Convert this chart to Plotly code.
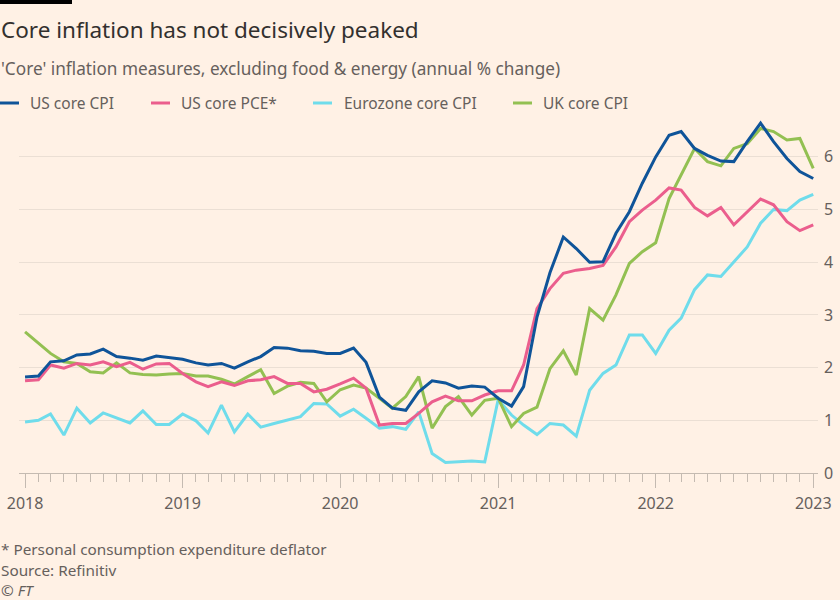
import plotly.graph_objects as go

# ---- data (monthly, annual % change) ----
months = [f"{y}-{m:02d}-01" for y in range(2018, 2023) for m in range(1, 13)] + ["2023-01-01"]

series_names = ["US core CPI", "US core PCE*", "Eurozone core CPI", "UK core CPI"]

us_core_cpi = [
    1.82, 1.84, 2.11, 2.13, 2.24, 2.26, 2.35, 2.21, 2.18, 2.14, 2.22, 2.19,
    2.16, 2.09, 2.05, 2.08, 1.99, 2.11, 2.21, 2.38, 2.37, 2.32, 2.31, 2.27,
    2.27, 2.37, 2.10, 1.44, 1.23, 1.19, 1.54, 1.75, 1.71, 1.61, 1.65, 1.63,
    1.42, 1.27, 1.64, 2.96, 3.80, 4.48, 4.26, 4.00, 4.01, 4.55, 4.96, 5.50,
    6.00, 6.41, 6.48, 6.16, 6.03, 5.92, 5.91, 6.29, 6.64, 6.29, 5.97, 5.72,
    5.59,
]
us_core_pce = [
    1.75, 1.77, 2.05, 1.99, 2.08, 2.05, 2.11, 2.02, 2.10, 1.97, 2.07, 2.08,
    1.89, 1.73, 1.64, 1.73, 1.66, 1.75, 1.77, 1.83, 1.70, 1.70, 1.54, 1.59,
    1.69, 1.80, 1.61, 0.91, 0.94, 0.94, 1.13, 1.35, 1.46, 1.37, 1.37, 1.48,
    1.56, 1.56, 2.05, 3.12, 3.50, 3.79, 3.85, 3.88, 3.94, 4.29, 4.77, 4.99,
    5.18, 5.41, 5.37, 5.04, 4.88, 5.04, 4.71, 4.95, 5.20, 5.09, 4.77, 4.60,
    4.71,
]
eurozone_core_cpi = [
    0.97, 1.00, 1.12, 0.72, 1.23, 0.95, 1.14, 1.04, 0.95, 1.18, 0.92, 0.92,
    1.12, 0.99, 0.76, 1.29, 0.78, 1.12, 0.87, 0.94, 1.00, 1.07, 1.32, 1.31,
    1.08, 1.21, 1.04, 0.85, 0.88, 0.83, 1.16, 0.37, 0.20, 0.21, 0.23, 0.21,
    1.39, 1.10, 0.91, 0.73, 0.94, 0.91, 0.70, 1.57, 1.89, 2.05, 2.62, 2.62,
    2.27, 2.71, 2.94, 3.48, 3.76, 3.73, 4.01, 4.29, 4.74, 5.00, 4.98, 5.18,
    5.29,
]
uk_core_cpi = [
    2.68, 2.46, 2.27, 2.11, 2.08, 1.92, 1.90, 2.09, 1.90, 1.87, 1.86, 1.88,
    1.89, 1.84, 1.84, 1.78, 1.69, 1.83, 1.96, 1.51, 1.65, 1.72, 1.70, 1.35,
    1.58, 1.67, 1.61, 1.42, 1.23, 1.45, 1.83, 0.85, 1.26, 1.45, 1.10, 1.38,
    1.42, 0.88, 1.13, 1.25, 1.98, 2.32, 1.86, 3.12, 2.90, 3.38, 3.98, 4.20,
    4.37, 5.21, 5.65, 6.16, 5.91, 5.83, 6.16, 6.25, 6.54, 6.48, 6.32, 6.35,
    5.78,
]

y_ticks = [0, 1, 2, 3, 4, 5, 6]
x_tick_labels = ["2018", "2019", "2020", "2021", "2022", "2023"]

# ---- style ----
BG = "#FFF1E5"
TEXT = "#33302E"
MUTED = "#66605C"
GRID = "#EBDFD4"
AXIS = "#C4BAB1"
colors = ["#0F5499", "#EB5E8D", "#6FDCEB", "#93C052"]
FONT = "Noto Sans"

W, H = 840, 600
L, R, T, B = 19, 22, 120, 127
plot_w = W - L - R
plot_h = H - T - B


def px(xp):
    return (xp - L) / plot_w


def py(yp):
    return (H - B - yp) / plot_h


fig = go.Figure()
all_series = [us_core_cpi, us_core_pce, eurozone_core_cpi, uk_core_cpi]
# draw order: Eurozone, UK, PCE, CPI on top
for idx in [2, 3, 1, 0]:
    fig.add_trace(go.Scatter(
        x=months, y=all_series[idx], mode="lines", name=series_names[idx],
        line=dict(color=colors[idx], width=3), showlegend=False,
        hoverinfo="skip",
    ))

fig.update_layout(
    width=W, height=H, autosize=False,
    margin=dict(l=L, r=R, t=T, b=B, pad=0, autoexpand=False),
    paper_bgcolor=BG, plot_bgcolor=BG,
    font=dict(family=FONT, color=MUTED, size=15),
    showlegend=False,
    xaxis=dict(
        type="date", automargin=False,
        range=["2017-12-18", "2023-01-12"],
        tickvals=[f"{y}-01-01" for y in x_tick_labels],
        ticktext=x_tick_labels,
        ticks="outside", ticklen=14, tickcolor=AXIS, tickwidth=1,
        minor=dict(dtick="M1", tick0="2018-01-01", ticks="outside", ticklen=8,
                   tickcolor=AXIS, tickwidth=1, showgrid=False),
        showgrid=False, showline=True, linecolor=AXIS, linewidth=1,
        tickfont=dict(size=16, color=MUTED), zeroline=False,
        ticklabelstandoff=2,
    ),
    yaxis=dict(
        range=[0, 6.7], side="right", tickvals=y_ticks, automargin=False,
        ticktext=[str(v) for v in y_ticks],
        showgrid=True, gridcolor=GRID, gridwidth=1, zeroline=False,
        ticks="", tickfont=dict(size=16, color=MUTED), ticklabelstandoff=5,
    ),
)

annotations = [
    dict(text="Core inflation has not decisively peaked", x=px(0), y=py(30),
         font=dict(size=22.5, color=TEXT)),
    dict(text="'Core' inflation measures, excluding food & energy (annual % change)",
         x=px(0), y=py(68), font=dict(size=17.2, color=MUTED)),
    dict(text="* Personal consumption expenditure deflator", x=px(0), y=py(549),
         font=dict(size=15.3, color=MUTED)),
    dict(text="Source: Refinitiv", x=px(0), y=py(570), font=dict(size=15.3, color=MUTED)),
    dict(text="<i>© FT</i>", x=px(0), y=py(590), font=dict(size=15.3, color=MUTED)),
]

legend_line_x = [0, 151, 313, 513]
legend_text_x = [29, 180, 343, 542]
legend_y = 103
shapes = [
    dict(type="rect", xref="paper", yref="paper", x0=px(0), x1=px(72),
         y0=py(4), y1=py(0), fillcolor="#000000", line=dict(width=0)),
]
for i, name in enumerate(series_names):
    shapes.append(dict(type="line", xref="paper", yref="paper",
                       x0=px(legend_line_x[i]), x1=px(legend_line_x[i] + 19),
                       y0=py(legend_y), y1=py(legend_y),
                       line=dict(color=colors[i], width=3)))
    annotations.append(dict(text=name, x=px(legend_text_x[i]), y=py(legend_y),
                            font=dict(size=15.5, color=MUTED)))

for a in annotations:
    a.update(xref="paper", yref="paper", xanchor="left", yanchor="middle",
             showarrow=False, borderpad=0)

fig.update_layout(annotations=annotations, shapes=shapes)

fig.write_html(
    "out.html",
    config={"displayModeBar": False, "responsive": False},
    post_script="document.body.style.margin='0';document.body.style.overflow='hidden';",
)
